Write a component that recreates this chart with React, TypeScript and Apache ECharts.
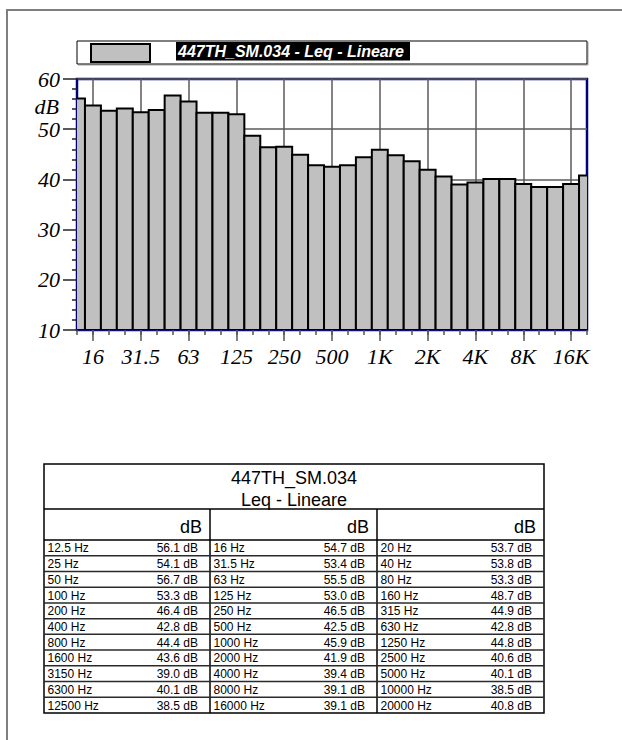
import { useEffect, useRef } from 'react';
import * as echarts from 'echarts';

// 1/3-octave band centres (Hz) and measured Leq levels (dB)
const bandLabels = [
  '12.5', '16', '20', '25', '31.5', '40', '50', '63', '80', '100', '125',
  '160', '200', '250', '315', '400', '500', '630', '800', '1000', '1250',
  '1600', '2000', '2500', '3150', '4000', '5000', '6300', '8000', '10000',
  '12500', '16000', '20000',
];
const levelsDb = [
  56.1, 54.7, 53.7, 54.1, 53.4, 53.8, 56.7, 55.5, 53.3, 53.3, 53.0,
  48.7, 46.4, 46.5, 44.9, 42.8, 42.5, 42.8, 44.4, 45.9, 44.8,
  43.6, 41.9, 40.6, 39.0, 39.4, 40.1, 40.1, 39.1, 38.5,
  38.5, 39.1, 40.8,
];
// octave labels shown under the axis (16 Hz ... 16 kHz, every third band)
const octaveLabels = ['16', '31.5', '63', '125', '250', '500', '1K', '2K', '4K', '8K', '16K'];
const yMin = 10;
const yMax = 60;
const yStep = 10;

const seriesName = '447TH_SM.034 - Leq - Lineare';
const tableTitle = '447TH_SM.034';
const tableSubtitle = 'Leq - Lineare';
const unit = 'dB';

const SERIF = '"Times New Roman", "Liberation Serif", serif';
const SANS = 'Arial, "Liberation Sans", Helvetica, sans-serif';
const NAVY = '#00007f';
const GRID_GREY = '#5a5a5a';
const BAR_FILL = '#c0c0c0';

const isOctave = (i: number) => i % 3 === 1;

function buildTable(): any[] {
  const left = 44;
  const right = 544;
  const top = 464;
  const titleLine = 509;
  const headLine = 540;
  const bottom = 713;
  const cols = [44, 210, 377, 544];
  const rows = Math.ceil(bandLabels.length / 3);
  const rowH = (bottom - headLine) / rows;
  const els: any[] = [];

  els.push({
    type: 'rect',
    shape: { x: left, y: top, width: right - left, height: bottom - top },
    style: { fill: '#fff', stroke: '#000', lineWidth: 1.5 },
  });
  els.push({
    type: 'text', x: (left + right) / 2, y: 478,
    style: { text: tableTitle, fontFamily: SANS, fontSize: 18, fill: '#000', align: 'center', verticalAlign: 'middle' },
  });
  els.push({
    type: 'text', x: (left + right) / 2, y: 500,
    style: { text: tableSubtitle, fontFamily: SANS, fontSize: 18, fill: '#000', align: 'center', verticalAlign: 'middle' },
  });
  els.push({ type: 'line', shape: { x1: left, y1: titleLine, x2: right, y2: titleLine }, style: { stroke: '#000', lineWidth: 1.5 } });
  els.push({ type: 'line', shape: { x1: left, y1: headLine, x2: right, y2: headLine }, style: { stroke: '#000', lineWidth: 1.5 } });
  for (let c = 1; c < 3; c++) {
    els.push({ type: 'line', shape: { x1: cols[c], y1: titleLine, x2: cols[c], y2: bottom }, style: { stroke: '#000', lineWidth: 1.5 } });
  }
  for (let c = 0; c < 3; c++) {
    els.push({
      type: 'text', x: cols[c + 1] - 8, y: 527,
      style: { text: unit, fontFamily: SANS, fontSize: 18, fill: '#000', align: 'right', verticalAlign: 'middle' },
    });
  }
  for (let r = 0; r < rows; r++) {
    const y0 = headLine + r * rowH;
    if (r < rows - 1) {
      els.push({ type: 'line', shape: { x1: left, y1: y0 + rowH, x2: right, y2: y0 + rowH }, style: { stroke: '#2a2a2a', lineWidth: 1.5 } });
    }
    for (let c = 0; c < 3; c++) {
      const i = r * 3 + c;
      if (i >= bandLabels.length) continue;
      els.push({
        type: 'text', x: cols[c] + 3.5, y: y0 + rowH / 2 + 0.5,
        style: { text: `${bandLabels[i]} Hz`, fontFamily: SANS, fontSize: 12, fill: '#000', align: 'left', verticalAlign: 'middle' },
      });
      els.push({
        type: 'text', x: cols[c + 1] - 12, y: y0 + rowH / 2 + 0.5,
        style: { text: `${levelsDb[i].toFixed(1)} dB`, fontFamily: SANS, fontSize: 12, fill: '#000', align: 'right', verticalAlign: 'middle' },
      });
    }
  }
  return els;
}

export default function App() {
  const ref = useRef<HTMLDivElement>(null);

  useEffect(() => {
    if (!ref.current) return;
    const chart = echarts.init(ref.current, null, { renderer: 'svg' });

    const graphic: any[] = [
      // page frame
      { type: 'line', shape: { x1: 6, y1: 10, x2: 622, y2: 10 }, style: { stroke: '#7f7f7f', lineWidth: 2 } },
      { type: 'line', shape: { x1: 7, y1: 10, x2: 7, y2: 740 }, style: { stroke: '#7f7f7f', lineWidth: 2 } },
      // legend strip
      {
        type: 'rect', shape: { x: 77, y: 41, width: 510, height: 23 },
        style: { fill: '#fff', stroke: '#000', lineWidth: 1, shadowColor: '#a0a0a0', shadowOffsetX: 1, shadowOffsetY: 1 },
      },
      { type: 'rect', shape: { x: 91, y: 44, width: 59, height: 18 }, style: { fill: BAR_FILL, stroke: '#000', lineWidth: 2 } },
      { type: 'rect', shape: { x: 176, y: 42, width: 234, height: 18.5 }, style: { fill: '#000' } },
      {
        type: 'text', x: 178, y: 51.5,
        style: {
          text: seriesName, fontFamily: SANS, fontSize: 16, fontWeight: 'bold', fontStyle: 'italic',
          fill: '#fff', align: 'left', verticalAlign: 'middle',
        },
      },
      // unit label on the level axis
      {
        type: 'text', x: 59, y: 106,
        style: { text: unit, fontFamily: SERIF, fontSize: 22, fontStyle: 'italic', fill: '#000', align: 'right', verticalAlign: 'middle' },
      },
      ...buildTable(),
    ];

    const lastIndex = bandLabels.length - 1;

    chart.setOption({
      animation: false,
      backgroundColor: '#fff',
      grid: {
        left: 77, top: 79, width: 510, height: 251,
        show: true, borderColor: NAVY, borderWidth: 2.5, backgroundColor: 'transparent',
      },
      xAxis: [
        {
          // band-index scale that positions the bars (band centres at the plot edges)
          type: 'value',
          min: 0,
          max: lastIndex,
          position: 'bottom',
          axisLine: { show: false },
          axisTick: { show: false },
          axisLabel: { show: false },
          splitLine: { show: false },
        },
        {
          type: 'category',
          data: bandLabels,
          boundaryGap: false,
          position: 'bottom',
          axisLine: { show: true, lineStyle: { color: NAVY, width: 1.5 } },
          axisTick: { show: true, interval: 0, length: 5, lineStyle: { color: '#555', width: 1.5 } },
          axisLabel: { show: false },
          splitLine: { show: false },
        },
        {
          type: 'category',
          data: bandLabels,
          boundaryGap: false,
          position: 'bottom',
          axisLine: { show: false },
          axisTick: {
            show: true, length: 11,
            interval: (i: number) => isOctave(i),
            lineStyle: { color: '#555', width: 1.5 },
          },
          axisLabel: {
            show: true,
            interval: (i: number) => isOctave(i),
            formatter: (_v: string, i: number) => octaveLabels[(i - 1) / 3] ?? '',
            fontFamily: SERIF, fontSize: 22, fontStyle: 'italic', color: '#000', margin: 15,
          },
          splitLine: {
            show: true,
            interval: (i: number) => isOctave(i),
            lineStyle: { color: GRID_GREY, width: 1.5 },
          },
        },
      ],
      yAxis: {
        type: 'value',
        min: yMin, max: yMax, interval: yStep,
        axisLine: { show: true, lineStyle: { color: NAVY, width: 1.5 } },
        axisTick: { show: true, length: 14, lineStyle: { color: '#222', width: 1.5 } },
        minorTick: { show: true, splitNumber: 5, length: 5, lineStyle: { color: '#222', width: 1.5 } },
        axisLabel: { fontFamily: SERIF, fontSize: 22, fontStyle: 'italic', color: '#000', margin: 17 },
        splitLine: { show: true, lineStyle: { color: GRID_GREY, width: 1.5 } },
      },
      series: [
        {
          // one full-width bar per band, clipped to the plot so the edge bands show as half bars
          name: seriesName,
          type: 'custom',
          xAxisIndex: 0,
          clip: true,
          encode: { x: 0, y: 1 },
          data: levelsDb.map((v, i) => [i, v]),
          renderItem: (_params: any, api: any) => {
            const idx = api.value(0);
            const level = api.value(1);
            const topPt = api.coord([idx, level]);
            const basePt = api.coord([idx, yMin]);
            const w = api.size([1, 0])[0];
            return {
              type: 'rect',
              shape: { x: topPt[0] - w / 2, y: topPt[1], width: w, height: basePt[1] - topPt[1] },
              style: { fill: BAR_FILL, stroke: '#000', lineWidth: 2 },
            };
          },
        },
      ],
      graphic,
    });

    return () => chart.dispose();
  }, []);

  return (
    <div
      ref={ref}
      style={{ position: 'absolute', left: 0, top: 0, width: 622, height: 740 }}
    />
  );
}
